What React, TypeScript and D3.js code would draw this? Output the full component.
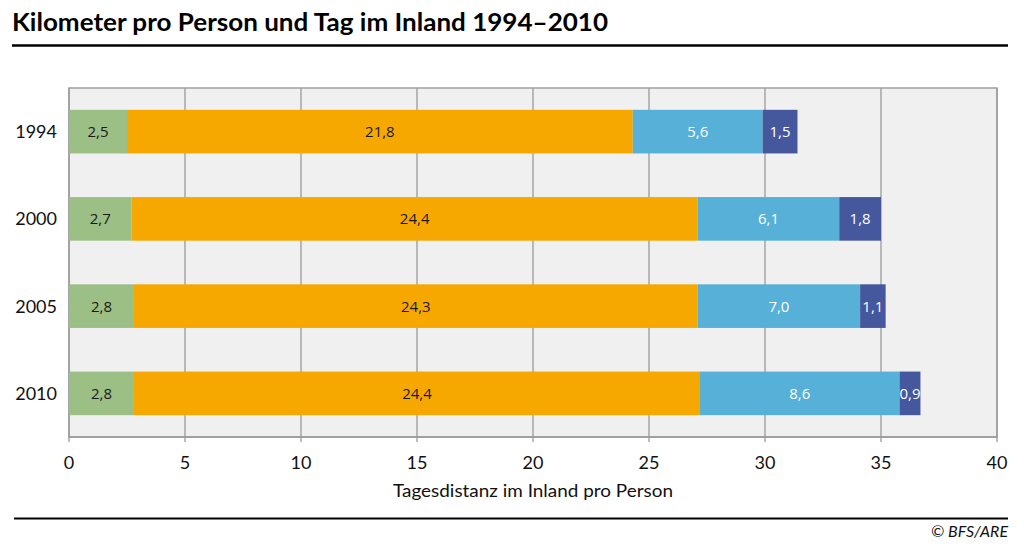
import React from "react";
import * as d3 from "d3";

const years = ["1994", "2000", "2005", "2010"];
const seriesKeys = ["s1", "s2", "s3", "s4"];
const s1 = [2.5, 2.7, 2.8, 2.8];
const s2 = [21.8, 24.4, 24.3, 24.4];
const s3 = [5.6, 6.1, 7.0, 8.6];
const s4 = [1.5, 1.8, 1.1, 0.9];
const xTicks = [0, 5, 10, 15, 20, 25, 30, 35, 40];
const colors = ["#9cbf85", "#f6a800", "#56b0d7", "#45579d"];
const textColors = ["#1a1a1a", "#1a1a1a", "#ffffff", "#ffffff"];

const title = "Kilometer pro Person und Tag im Inland 1994–2010";
const xTitle = "Tagesdistanz im Inland pro Person";
const source = "© BFS/ARE";

export default function App() {
  const W = 1024, H = 553;
  const left = 69, right = 997, top = 88, bottom = 437;
  const x = d3.scaleLinear().domain([0, 40]).range([left, right]);
  const y = d3.scaleBand().domain(years).range([top, bottom]).paddingInner(0.5).paddingOuter(0.25);
  const rows = years.map((yr, i) => ({ year: yr, s1: s1[i], s2: s2[i], s3: s3[i], s4: s4[i] }));
  const stacked = d3.stack<any>().keys(seriesKeys)(rows);
  const fmt = (v: number) => v.toFixed(1).replace(".", ",");
  const font = "'Open Sans', 'Noto Sans', sans-serif";

  return (
    <svg width={W} height={H} style={{ position: "absolute", left: 0, top: 0 }} fontFamily={font}>
      <rect x={0} y={0} width={W} height={H} fill="#fff" />
      <text x={12} y={31} fontSize={24} fontWeight="bold" fill="#000" fontFamily="Lato, sans-serif" textLength={596} lengthAdjust="spacingAndGlyphs">{title}</text>
      <line x1={12} x2={1008} y1={45.5} y2={45.5} stroke="#000" strokeWidth={2.5} />
      <rect x={left} y={top} width={right - left} height={bottom - top} fill="#f0f0f0" stroke="#a0a0a0" strokeWidth={1.5} />
      {xTicks.map((t) => (
        <g key={t}>
          <line x1={x(t)} x2={x(t)} y1={top} y2={bottom + 5} stroke="#9a9a9a" strokeWidth={1.3} />
          <text x={x(t)} y={469} fontSize={18} textAnchor="middle" fill="#111" fontFamily="Lato, sans-serif">{t}</text>
        </g>
      ))}
      <line x1={left} x2={right} y1={bottom} y2={bottom} stroke="#9a9a9a" strokeWidth={1.5} />
      {stacked.map((layer, k) => (
        <g key={layer.key}>
          {layer.map((d: any, i: number) => {
            const x0 = x(d[0]), x1 = x(d[1]);
            const yy = y(years[i])!;
            const v = d[1] - d[0];
            return (
              <g key={i}>
                <rect x={x0} y={yy} width={x1 - x0} height={y.bandwidth()} fill={colors[k]} />
                <text x={(x0 + x1) / 2} y={yy + y.bandwidth() / 2 + 5.5} fontSize={15} textAnchor="middle" fill={textColors[k]}>{fmt(v)}</text>
              </g>
            );
          })}
        </g>
      ))}
      {years.map((yr) => (
        <text key={yr} x={57} y={y(yr)! + y.bandwidth() / 2 + 6.5} fontSize={18} textAnchor="end" fill="#111" fontFamily="Lato, sans-serif">{yr}</text>
      ))}
      <text x={(left + right) / 2} y={497} fontSize={18} textAnchor="middle" fill="#111" fontFamily="Lato, sans-serif" textLength={280} lengthAdjust="spacingAndGlyphs">{xTitle}</text>
      <line x1={14} x2={1008} y1={518.5} y2={518.5} stroke="#000" strokeWidth={2} />
      <text x={1008} y={537} fontSize={16} textAnchor="end" fontStyle="italic" fill="#111" fontFamily="Lato, sans-serif">{source}</text>
    </svg>
  );
}
